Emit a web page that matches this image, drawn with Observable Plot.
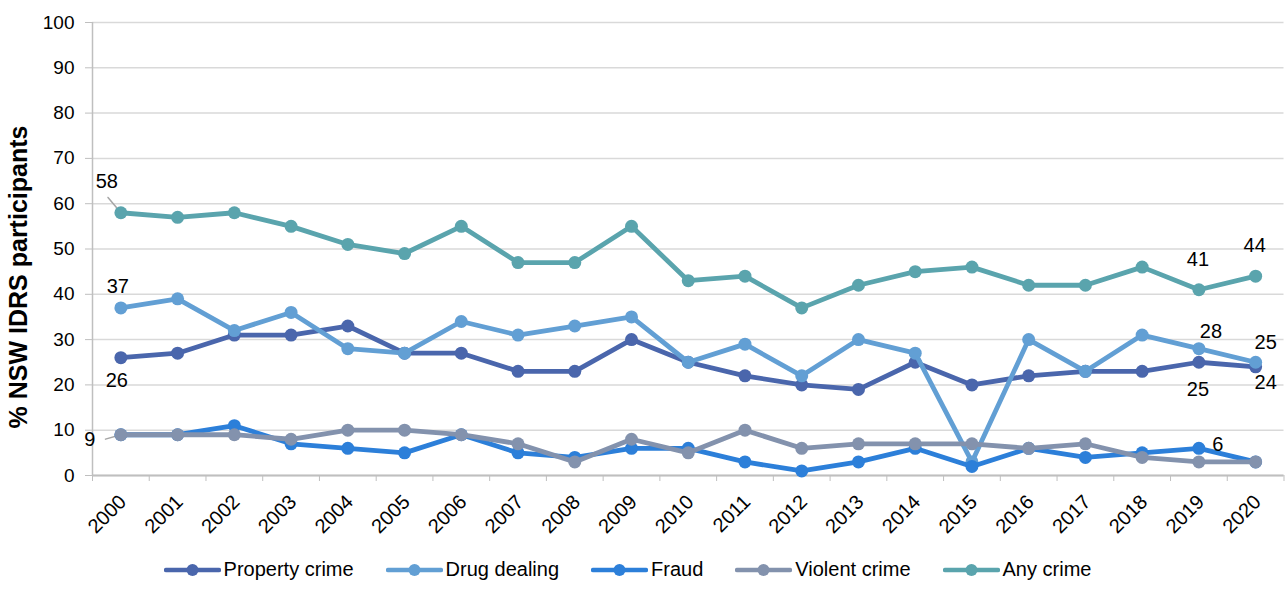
<!DOCTYPE html>
<html><head><meta charset="utf-8">
<script src="https://cdn.jsdelivr.net/npm/d3@7"></script>
<script src="https://cdn.jsdelivr.net/npm/@observablehq/plot@0.6"></script>
<style>
body{margin:0;background:#fff;font-family:"Liberation Sans",Arial,sans-serif;}
#chart svg{display:block}
#legend{display:flex;justify-content:center;gap:32px;font-size:20px;color:#000;padding-right:32px;height:49px;align-items:center}
.item{display:flex;align-items:center;gap:3px}
.item svg{display:block}
</style></head><body><div id="chart"></div><div id="legend"></div>
<script>
const years = [2000,2001,2002,2003,2004,2005,2006,2007,2008,2009,2010,2011,2012,2013,2014,2015,2016,2017,2018,2019,2020];
const seriesNames = ["Property crime","Drug dealing","Fraud","Violent crime","Any crime"];
const property = [26,27,31,31,33,27,27,23,23,30,25,22,20,19,25,20,22,23,23,25,24];
const drug     = [37,39,32,36,28,27,34,31,33,35,25,29,22,30,27,3,30,23,31,28,25];
const fraud    = [9,9,11,7,6,5,9,5,4,6,6,3,1,3,6,2,6,4,5,6,3];
const violent  = [9,9,9,8,10,10,9,7,3,8,5,10,6,7,7,7,6,7,4,3,3];
const anyCrime = [58,57,58,55,51,49,55,47,47,55,43,44,37,42,45,46,42,42,46,41,44];
const yTicks = [0,10,20,30,40,50,60,70,80,90,100];
const yTitle = "% NSW IDRS participants";
const colors = ["#4A66AC","#629FD4","#2C7FD9","#8392AD","#5AA4AD"];

const values = [property, drug, fraud, violent, anyCrime];
const rows = seriesNames.map((s, i) => years.map((yr, j) => ({series: s, year: yr, value: values[i][j]})));

// data labels: series index, year, placement offsets
const labels = [
  {s:4, year:2000, dx:-14, dy:-31, leader:{len:20, rot:-40}},
  {s:1, year:2000, dx:-3, dy:-21},
  {s:0, year:2000, dx:-4, dy:23},
  {s:3, year:2000, dx:-31, dy:5, leader:{len:16, rot:-106}},
  {s:4, year:2019, dx:-1, dy:-30},
  {s:4, year:2020, dx:-1, dy:-31},
  {s:1, year:2019, dx:12, dy:-17},
  {s:1, year:2020, dx:10, dy:-20},
  {s:0, year:2019, dx:-1, dy:27},
  {s:0, year:2020, dx:10, dy:16},
  {s:2, year:2019, dx:19, dy:-4}
].map(d => ({...d, value: values[d.s][years.indexOf(d.year)]}));

const bounds = [years[0] - 0.5, ...years.map(y => y + 0.5)];
const leaderShape = {draw(ctx, l) { ctx.moveTo(0, 0); ctx.lineTo(0, -l); }};

const marks = [
  Plot.gridY(yTicks, {stroke: "#d9d9d9", strokeOpacity: 1, strokeWidth: 1.5}),
  Plot.ruleX([bounds[0]], {stroke: "#bfbfbf", strokeWidth: 1.5}),
  Plot.ruleY([0], {stroke: "#bfbfbf", strokeWidth: 2}),
  Plot.axisY({ticks: yTicks, tickSize: 7, tickPadding: 11, fontSize: 19, stroke: "#bfbfbf", label: null, tickFormat: d => String(d)}),
  Plot.axisX({ticks: bounds, tickSize: 6, tickFormat: () => "", stroke: "#bfbfbf", label: null}),
  Plot.text(years, {x: d => d, text: d => String(d), frameAnchor: "bottom", rotate: -45, textAnchor: "end", lineAnchor: "middle", dx: 2, dy: 23, fontSize: 20, fill: "#000"}),
  Plot.text([yTitle], {frameAnchor: "left", textAnchor: "middle", dx: -74, dy: 28, rotate: -90, fontWeight: "bold", fontSize: 25, fill: "#000"}),
  ...labels.filter(d => d.leader).map(d => Plot.vector([d], {x: "year", y: "value", length: d.leader.len, rotate: d.leader.rot, anchor: "start", shape: leaderShape, stroke: "#a6a6a6", strokeWidth: 1.5}))
];
rows.forEach((r, i) => {
  marks.push(Plot.line(r, {x: "year", y: "value", stroke: colors[i], strokeWidth: 4.8}));
  marks.push(Plot.dot(r, {x: "year", y: "value", fill: colors[i], r: 6.5, stroke: "none"}));
});
labels.forEach(d => {
  marks.push(Plot.text([d], {x: "year", y: "value", text: d => String(d.value), dx: d.dx, dy: d.dy, fontSize: 20, fill: "#000"}));
});

const chart = Plot.plot({
  width: 1287, height: 545,
  marginLeft: 92, marginRight: 3.5, marginTop: 22, marginBottom: 70,
  x: {type: "linear", domain: [bounds[0], bounds[bounds.length - 1]]},
  y: {domain: [0, 100]},
  style: {fontFamily: "'Liberation Sans', Arial, sans-serif", fontSize: "19px", color: "#000", background: "#fff"},
  marks
});
document.getElementById("chart").appendChild(chart);

const legend = document.getElementById("legend");
seriesNames.forEach((s, i) => {
  const item = document.createElement("div");
  item.className = "item";
  item.innerHTML = `<svg width="57" height="14"><line x1="2" x2="55" y1="7" y2="7" stroke="${colors[i]}" stroke-width="4.5" stroke-linecap="round"/><circle cx="28.5" cy="7" r="6" fill="${colors[i]}"/></svg><span>${s}</span>`;
  legend.appendChild(item);
});
</script></body></html>
